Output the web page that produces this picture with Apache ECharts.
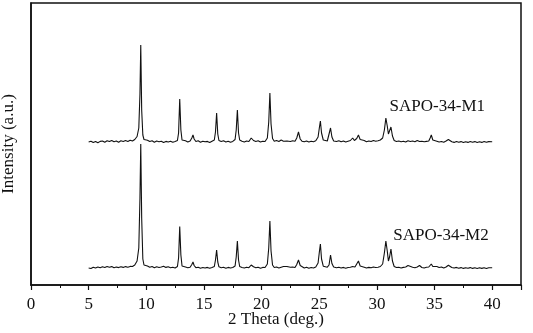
<!DOCTYPE html>
<html><head><meta charset="utf-8">
<script src="https://cdn.jsdelivr.net/npm/echarts@6/dist/echarts.min.js"></script>
<style>html,body{margin:0;padding:0;background:#fff}#c{width:533px;height:333px}</style>
</head><body><div id="c"></div>
<script>
// 2θ (deg.) vs intensity (counts, background-subtracted)
const m1Data = [[5.0,0],[5.2,8],[5.4,-5],[5.6,5],[5.8,-8],[6.0,6],[6.2,10],[6.4,-3],[6.6,12],[6.8,4],[7.0,15],[7.2,3],[7.4,10],[7.6,-2],[7.8,12],[8.0,5],[8.2,14],[8.4,6],[8.6,18],[8.8,10],[9.0,25],[9.2,55],[9.35,140],[9.45,480],[9.52,970],[9.6,320],[9.7,70],[9.8,25],[9.95,10],[10.1,18],[10.3,5],[10.5,12],[10.7,-2],[10.9,10],[11.1,3],[11.3,8],[11.5,-4],[11.7,6],[11.9,0],[12.1,8],[12.3,-3],[12.5,5],[12.7,15],[12.8,90],[12.9,430],[13.0,120],[13.1,20],[13.25,5],[13.4,12],[13.6,0],[13.8,10],[13.95,40],[14.05,70],[14.15,30],[14.3,5],[14.5,12],[14.7,-2],[14.9,8],[15.1,2],[15.3,6],[15.5,-4],[15.7,8],[15.9,20],[16.0,100],[16.1,290],[16.2,80],[16.3,15],[16.5,5],[16.7,12],[16.9,0],[17.1,8],[17.3,-3],[17.5,6],[17.7,25],[17.8,120],[17.9,320],[18.0,90],[18.1,20],[18.3,8],[18.5,0],[18.7,10],[18.9,5],[19.1,40],[19.2,50],[19.3,15],[19.5,5],[19.7,12],[19.9,0],[20.1,8],[20.3,5],[20.5,40],[20.62,200],[20.72,490],[20.82,180],[20.95,35],[21.1,8],[21.3,15],[21.5,5],[21.7,20],[21.9,8],[22.05,25],[22.2,10],[22.35,28],[22.5,5],[22.7,12],[22.9,8],[23.05,40],[23.2,100],[23.35,30],[23.5,8],[23.7,2],[23.9,10],[24.1,0],[24.3,8],[24.5,3],[24.7,12],[24.9,50],[25.02,150],[25.1,210],[25.2,90],[25.35,20],[25.5,5],[25.7,10],[25.85,30],[25.98,140],[26.1,50],[26.25,10],[26.5,5],[26.7,12],[26.9,2],[27.1,10],[27.3,0],[27.5,8],[27.7,15],[27.9,40],[28.05,15],[28.25,35],[28.4,70],[28.55,25],[28.7,8],[28.9,15],[29.1,3],[29.3,10],[29.5,5],[29.7,15],[29.9,8],[30.1,12],[30.3,20],[30.5,40],[30.65,120],[30.78,240],[30.9,160],[31.0,80],[31.1,100],[31.22,150],[31.35,60],[31.5,15],[31.7,5],[31.9,10],[32.1,2],[32.3,8],[32.5,0],[32.7,12],[32.9,5],[33.1,10],[33.3,3],[33.5,15],[33.7,5],[33.9,8],[34.1,2],[34.3,6],[34.5,10],[34.62,40],[34.72,70],[34.85,20],[35.0,5],[35.2,8],[35.4,0],[35.6,5],[35.8,-2],[36.0,10],[36.2,25],[36.35,8],[36.5,2],[36.7,-4],[36.9,5],[37.1,-3],[37.3,4],[37.5,-5],[37.7,3],[37.9,-4],[38.1,5],[38.3,-3],[38.5,4],[38.7,-5],[38.9,2],[39.1,-4],[39.3,5],[39.5,-3],[39.7,4],[39.85,-2],[40.0,3]];
const m2Data = [[5.0,0],[5.2,-5],[5.4,8],[5.6,0],[5.8,10],[6.0,3],[6.2,12],[6.4,5],[6.6,15],[6.8,8],[7.0,14],[7.2,2],[7.4,10],[7.6,4],[7.8,12],[8.0,6],[8.2,14],[8.4,8],[8.6,16],[8.8,15],[9.0,30],[9.2,70],[9.35,200],[9.45,700],[9.52,1240],[9.6,500],[9.7,90],[9.8,30],[9.95,12],[10.1,20],[10.3,8],[10.5,15],[10.7,3],[10.9,12],[11.1,5],[11.3,10],[11.5,18],[11.7,6],[11.9,12],[12.1,3],[12.3,8],[12.5,0],[12.7,15],[12.8,100],[12.9,416],[13.0,130],[13.1,20],[13.25,5],[13.4,10],[13.6,2],[13.8,8],[13.95,35],[14.05,60],[14.15,25],[14.3,3],[14.5,8],[14.7,-2],[14.9,5],[15.1,0],[15.3,6],[15.5,-3],[15.7,5],[15.9,15],[16.0,80],[16.1,180],[16.2,60],[16.3,12],[16.5,3],[16.7,8],[16.9,-2],[17.1,6],[17.3,0],[17.5,5],[17.7,20],[17.8,110],[17.9,270],[18.0,80],[18.1,15],[18.3,5],[18.5,0],[18.7,8],[18.9,3],[19.1,30],[19.2,40],[19.3,12],[19.5,2],[19.7,8],[19.9,-2],[20.1,6],[20.3,5],[20.5,40],[20.62,200],[20.72,470],[20.82,170],[20.95,30],[21.1,5],[21.3,10],[21.5,0],[21.7,8],[21.9,15],[22.05,35],[22.2,15],[22.35,32],[22.5,8],[22.7,10],[22.9,5],[23.05,35],[23.2,80],[23.35,25],[23.5,5],[23.7,0],[23.9,8],[24.1,-2],[24.3,5],[24.5,0],[24.7,10],[24.9,50],[25.02,170],[25.1,240],[25.2,90],[25.35,18],[25.5,3],[25.7,8],[25.85,30],[25.98,130],[26.1,45],[26.25,10],[26.5,3],[26.7,8],[26.9,0],[27.1,6],[27.3,-2],[27.5,5],[27.7,8],[27.9,15],[28.1,10],[28.25,30],[28.4,70],[28.55,20],[28.7,5],[28.9,8],[29.1,0],[29.3,6],[29.5,2],[29.7,10],[29.9,5],[30.1,8],[30.3,15],[30.5,40],[30.65,150],[30.78,270],[30.9,170],[31.0,70],[31.1,110],[31.22,190],[31.35,70],[31.5,15],[31.7,5],[31.9,8],[32.1,0],[32.3,6],[32.5,10],[32.7,25],[32.85,5],[33.1,8],[33.3,2],[33.5,10],[33.7,25],[33.9,5],[34.1,0],[34.3,8],[34.5,10],[34.62,30],[34.72,40],[34.85,15],[35.0,3],[35.2,15],[35.4,5],[35.6,10],[35.8,0],[36.0,10],[36.2,28],[36.35,10],[36.5,5],[36.7,0],[36.9,6],[37.1,-2],[37.3,4],[37.5,-4],[37.7,3],[37.9,-3],[38.1,4],[38.3,-4],[38.5,2],[38.7,-5],[38.9,3],[39.1,-4],[39.3,2],[39.5,-5],[39.7,3],[39.85,-3],[40.0,2]];
const seriesNames = ['SAPO-34-M1', 'SAPO-34-M2'];
const seriesOffsets = [1430, 170];     // vertical stacking offsets (a.u.)
const labelAnchors = [[35.24, 1780], [35.56, 490]]; // [2θ, a.u.] where sample names sit
const xTicks = [0, 5, 10, 15, 20, 25, 30, 35, 40];

const font = '"Liberation Serif","Times New Roman",serif';
const fs = 17;
const chart = echarts.init(document.getElementById('c'), null, {renderer: 'canvas'});
const raw = [m1Data, m2Data];
const series = raw.map((d, i) => ({
  name: seriesNames[i],
  type: 'line',
  symbol: 'none',
  data: d.map(p => [p[0], p[1] + seriesOffsets[i]]),
  lineStyle: {color: '#111', width: 1.1},
  z: 3 - i,
  animation: false
}));

chart.setOption({
  animation: false,
  backgroundColor: '#fff',
  grid: {left: 31, right: 12, top: 3, bottom: 48, containLabel: false, outerBoundsMode: 'none',
    show: true, borderColor: '#111', borderWidth: 1.5},
  xAxis: {
    type: 'value', min: 0, max: 42.5, interval: 5,
    name: '2 Theta (deg.)', nameLocation: 'middle', nameGap: 26, nameMoveOverlap: false,
    nameTextStyle: {fontFamily: font, fontSize: fs, color: '#111'},
    axisLine: {show: true, lineStyle: {color: '#111', width: 1.5}},
    axisTick: {show: true, inside: false, length: 5, lineStyle: {color: '#111', width: 1.2}},
    minorTick: {show: true, splitNumber: 2, length: 3, lineStyle: {color: '#111', width: 1}},
    axisLabel: {fontFamily: font, fontSize: fs, color: '#111', margin: 11,
      formatter: v => xTicks.includes(v) ? String(v) : ''},
    splitLine: {show: false}
  },
  yAxis: {
    type: 'value', min: 0, max: 2820,
    name: 'Intensity (a.u.)', nameLocation: 'middle', nameGap: 14, nameRotate: 90, nameMoveOverlap: false,
    nameTextStyle: {fontFamily: font, fontSize: fs, color: '#111'},
    axisLine: {show: true, lineStyle: {color: '#111', width: 1.5}},
    axisTick: {show: false}, axisLabel: {show: false}, splitLine: {show: false}
  },
  series: series
});

chart.setOption({
  graphic: labelAnchors.map((a, i) => {
    const p = chart.convertToPixel({gridIndex: 0}, a);
    return {type: 'text', x: p[0], y: p[1], silent: true,
      style: {text: seriesNames[i], fill: '#111', font: fs + 'px ' + font, align: 'center', verticalAlign: 'middle'}};
  })
});
</script></body></html>
